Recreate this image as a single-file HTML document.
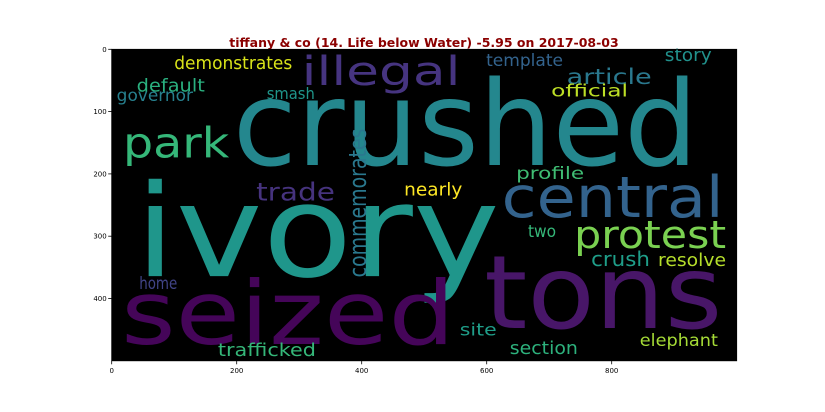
<!DOCTYPE html>
<html><head><meta charset="utf-8"><style>
html,body{margin:0;padding:0;background:#fff;width:825px;height:412px;overflow:hidden}
svg{display:block}
</style></head><body>
<svg id="chart" width="825" height="412" xmlns="http://www.w3.org/2000/svg" font-family="'DejaVu Sans', 'Liberation Sans', sans-serif">
<text x="424" y="47" text-anchor="middle" font-size="12.5" font-weight="bold" fill="#8b0000">tiffany &amp; co (14. Life below Water) -5.95 on 2017-08-03</text>
<rect x="111.7" y="49.3" width="625" height="311.5" fill="#000"/>
<g id="words"></g>
<g id="axes"></g>
</svg>
<script>
const words = ["crushed","ivory","seized","tons","central","protest","park","illegal","trade","commemorates","demonstrates","default","governor","smash","template","story","article","official","profile","nearly","two","crush","resolve","home","site","section","elephant","trafficked"];
const wordX = [194,37,15,596,624,740,18,304,231,407,100,40,8,248,599,885,728,703,647,468,666,767,874,44,557,637,845,170];
const wordY = [186,364,473,447,269,319,174,57,243,366,32,68,83,80,27,19,56,76,208,235,301,348,348,385,459,489,476,492];
const wordLen = [744,584,534,381,355,243,170,254,126,238,189,109,122,77,123,75,136,123,109,93,45,94,109,61,59,109,125,157];
const wordSize = [189,205,141,163,91,61,67,64,40,38,29,29,27,26,27,29,34,27,27,29,27,32,29,27,27,29,27,29];
const wordVertical = [0,0,0,0,0,0,0,0,0,1,0,0,0,0,0,0,0,0,0,0,0,0,0,0,0,0,0,0];
const wordColor = ["#24878e","#1f968b","#450559","#481668","#33638d","#7ad151","#35b779","#463480","#46337e","#2a788e","#d8e219","#2ab07f","#27808e","#1f968b","#33638d","#21918c","#2a788e","#bddf26","#3fbc73","#fde725","#35b779","#1f9e89","#b5de2b","#414487","#1f9e89","#2db27d","#a5db36","#35b779"];
const xTicks = [0,200,400,600,800];
const yTicks = [0,100,200,300,400];

const X0=111.7, Y0=49.3, SX=0.625, SY=0.623;
function sx(v){return X0+v*SX;}
function sy(v){return Y0+v*SY;}
const NS="http://www.w3.org/2000/svg";
const wg=document.getElementById('words');
words.forEach((w,i)=>{
  const t=document.createElementNS(NS,'text');
  
  
  const fs=wordSize[i]*SX;
  t.setAttribute('font-size', fs.toFixed(1));
  t.setAttribute('fill', wordColor[i]);
  t.setAttribute('textLength', (wordLen[i]*SX).toFixed(1));
  t.setAttribute('lengthAdjust','spacingAndGlyphs');
  if(wordVertical[i]){
    const px=sx(wordX[i]), py=sy(wordY[i]);
    t.setAttribute('x',0);t.setAttribute('y',0);
    t.setAttribute('transform','translate('+px+','+py+') rotate(-90)');
  } else {
    t.setAttribute('x', sx(wordX[i]).toFixed(1));
    t.setAttribute('y', sy(wordY[i]).toFixed(1));
  }
  t.textContent=w;
  wg.appendChild(t);
});
const ag=document.getElementById('axes');
const frame=document.createElementNS(NS,'rect');


frame.setAttribute('x',X0);frame.setAttribute('y',Y0);frame.setAttribute('width',1000*SX);frame.setAttribute('height',500*SY);
frame.setAttribute('fill','none');frame.setAttribute('stroke','#000');frame.setAttribute('stroke-width','0.8');
ag.appendChild(frame);
xTicks.forEach(v=>{
  const l=document.createElementNS(NS,'line');
  
  
  l.setAttribute('x1',sx(v));l.setAttribute('x2',sx(v));l.setAttribute('y1',sy(500));l.setAttribute('y2',sy(500)+3.5);
  l.setAttribute('stroke','#000');l.setAttribute('stroke-width','0.8');ag.appendChild(l);
  const t=document.createElementNS(NS,'text');
  
  
  t.setAttribute('x',sx(v));t.setAttribute('y',sy(500)+12);t.setAttribute('font-size','7');t.setAttribute('text-anchor','middle');
  t.textContent=v;ag.appendChild(t);
});
yTicks.forEach(v=>{
  const l=document.createElementNS(NS,'line');
  
  
  l.setAttribute('x1',X0-3.5);l.setAttribute('x2',X0);l.setAttribute('y1',sy(v));l.setAttribute('y2',sy(v));
  l.setAttribute('stroke','#000');l.setAttribute('stroke-width','0.8');ag.appendChild(l);
  const t=document.createElementNS(NS,'text');
  
  
  t.setAttribute('x',X0-5);t.setAttribute('y',sy(v)+2.5);t.setAttribute('font-size','7');t.setAttribute('text-anchor','end');
  t.textContent=v;ag.appendChild(t);
});
</script>
</body></html>
